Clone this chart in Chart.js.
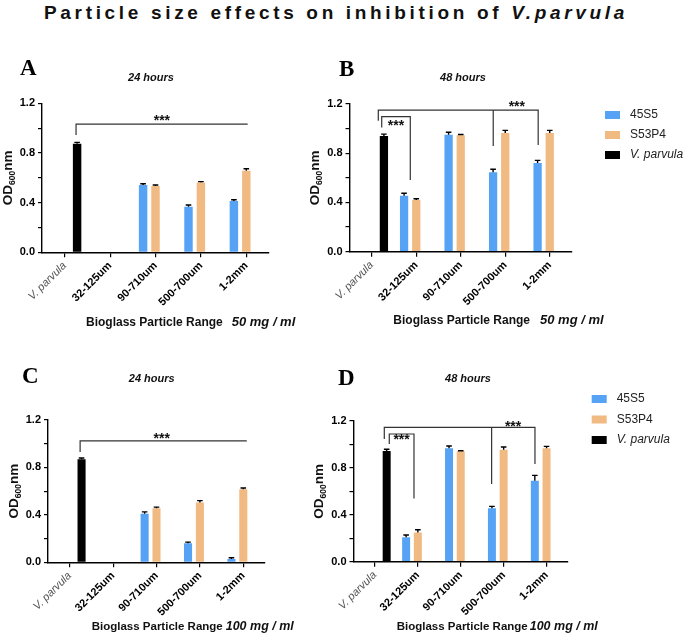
<!DOCTYPE html>
<html><head><meta charset="utf-8">
<script src="https://cdn.jsdelivr.net/npm/chart.js@4.4.1/dist/chart.umd.min.js"></script>
<style>
html,body{margin:0;padding:0;background:#fff;}
body{width:685px;height:636px;position:relative;overflow:hidden;}
#title{position:absolute;left:44px;top:1px;font-weight:bold;font-size:19px;font-family:"Liberation Sans Narrow","Liberation Sans",Arial,sans-serif;white-space:nowrap;color:#111;line-height:24px;}
canvas{position:absolute;}
</style></head><body>
<div id="title">Particle size effects on inhibition of <i>V.parvula</i></div>
<canvas id="cA" width="340" height="295" style="left:0;top:45px"></canvas>
<canvas id="cB" width="385" height="295" style="left:300px;top:45px"></canvas>
<canvas id="cC" width="340" height="281" style="left:0;top:355px"></canvas>
<canvas id="cD" width="385" height="281" style="left:300px;top:355px"></canvas>
<script>
// ---------- data ----------
const categories = ['V. parvula', '32-125um', '90-710um', '500-700um', '1-2mm'];
const seriesNames = ['45S5', 'S53P4', 'V. parvula'];
const yTickLabels = ['0.0', '0.4', '0.8', '1.2'];

// Panel A: 24 h, 50 mg/ml
const a45S5      = [null, null, 0.542, 0.367, 0.413];
const a45S5Err   = [null, null, 0.010, 0.014, 0.010];
const aS53P4     = [null, null, 0.534, 0.563, 0.657];
const aS53P4Err  = [null, null, 0.008, 0.006, 0.016];
const aVparvula  = [0.875, null, null, null, null];
const aVparvulaErr = [0.010, null, null, null, null];

// Panel B: 48 h, 50 mg/ml
const b45S5      = [null, 0.455, 0.950, 0.645, 0.720];
const b45S5Err   = [null, 0.020, 0.020, 0.025, 0.022];
const bS53P4     = [null, 0.420, 0.946, 0.964, 0.964];
const bS53P4Err  = [null, 0.010, 0.006, 0.022, 0.022];
const bVparvula  = [0.940, null, null, null, null];
const bVparvulaErr = [0.015, null, null, null, null];

// Panel C: 24 h, 100 mg/ml
const c45S5      = [null, null, 0.410, 0.160, 0.028];
const c45S5Err   = [null, null, 0.015, 0.010, 0.010];
const cS53P4     = [null, null, 0.455, 0.505, 0.617];
const cS53P4Err  = [null, null, 0.010, 0.015, 0.010];
const cVparvula  = [0.870, null, null, null, null];
const cVparvulaErr = [0.010, null, null, null, null];

// Panel D: 48 h, 100 mg/ml
const d45S5      = [null, 0.208, 0.967, 0.455, 0.690];
const d45S5Err   = [null, 0.020, 0.020, 0.017, 0.046];
const dS53P4     = [null, 0.250, 0.941, 0.955, 0.967];
const dS53P4Err  = [null, 0.023, 0.005, 0.023, 0.017];
const dVparvula  = [0.944, null, null, null, null];
const dVparvulaErr = [0.015, null, null, null, null];

// significance brackets in data units [category position, value]
const aBrackets = [[[0.25,0.944],[0.25,1.033],[4.03,1.033]]];
const aStars = [[2.14,1.079]];
const bBrackets = [[[0.147,1.064],[0.147,1.151],[3.74,1.151],[3.74,0.867]],[[2.73,1.151],[2.73,0.859]],[[0.224,1.01],[0.224,1.097],[0.866,1.097],[0.866,0.582]]];
const bStars = [[3.26,1.2],[0.545,1.043]];
const cBrackets = [[[0.24,0.93],[0.24,1.024],[4.08,1.024]]];
const cStars = [[2.12,1.066]];
const dBrackets = [[[0.218,1.046],[0.218,1.146],[3.73,1.146],[3.73,0.833]],[[2.72,1.146],[2.72,0.663]],[[0.334,1.004],[0.334,1.089],[0.91,1.089],[0.91,0.54]]];
const dStars = [[3.22,1.174],[0.62,1.061]];

// ---------- styling ----------
const FAM = "'Liberation Sans', Arial, sans-serif";
const COLORS = ['#56A3F6', '#F2BA83', '#000000'];
Chart.defaults.font.family = FAM;

// fit title letter-spacing
(function(){
  const t = document.getElementById('title');
  const w0 = t.getBoundingClientRect().width;
  const n = t.textContent.length;
  t.style.letterSpacing = ((584 - w0) / n) + 'px';
})();

const deco = {
  id: 'panelDeco',
  afterDatasetsDraw(chart) {
    const ctx = chart.ctx, ys = chart.scales.y;
    chart.data.datasets.forEach((ds, i) => {
      const meta = chart.getDatasetMeta(i);
      meta.data.forEach((el, j) => {
        const v = ds.data[j], e = ds.errors[j];
        if (v == null || e == null) return;
        const yTop = ys.getPixelForValue(v + e);
        ctx.save();
        ctx.strokeStyle = '#000'; ctx.lineWidth = 1.4;
        ctx.beginPath();
        ctx.moveTo(el.x, el.y); ctx.lineTo(el.x, yTop);
        ctx.moveTo(el.x - 2.8, yTop); ctx.lineTo(el.x + 2.8, yTop);
        ctx.stroke();
        ctx.restore();
      });
    });
  },
  afterDraw(chart, args, o) {
    const ctx = chart.ctx, xs = chart.scales.x, ys = chart.scales.y, ca = chart.chartArea;
    ctx.save();
    // brackets
    ctx.strokeStyle = '#333'; ctx.lineWidth = 1.2;
    o.brackets.forEach(path => {
      ctx.beginPath();
      path.forEach((p, k) => {
        const px = xs.getPixelForValue(p[0]), py = ys.getPixelForValue(p[1]);
        if (k === 0) ctx.moveTo(px, py); else ctx.lineTo(px, py);
      });
      ctx.stroke();
    });
    // stars
    ctx.fillStyle = '#111';
    ctx.font = 'bold 14px ' + FAM;
    ctx.textAlign = 'center'; ctx.textBaseline = 'alphabetic';
    const m = ctx.measureText('***');
    const off = (m.actualBoundingBoxAscent - m.actualBoundingBoxDescent) / 2;
    o.stars.forEach(s => {
      ctx.fillText('***', xs.getPixelForValue(s[0]), ys.getPixelForValue(s[1]) + off);
    });
    // panel letter
    ctx.textAlign = 'left';
    ctx.font = "bold 23px 'Liberation Serif', serif";
    ctx.fillStyle = '#000';
    ctx.fillText(o.letter.t, o.letter.x, o.letter.y);
    // hours
    ctx.textAlign = 'center'; ctx.textBaseline = 'middle';
    ctx.font = 'italic bold 11px ' + FAM;
    ctx.fillStyle = '#111';
    ctx.fillText(o.hours.t, o.hours.x, o.hours.y);
    // x title
    ctx.textAlign = 'left';
    ctx.font = 'bold ' + o.xt.s1 + 'px ' + FAM;
    ctx.fillText('Bioglass Particle Range', o.xt.x, o.xt.y);
    const w1 = ctx.measureText('Bioglass Particle Range').width;
    ctx.font = 'italic bold ' + o.xt.s2 + 'px ' + FAM;
    ctx.fillText(o.xt.t2, o.xt.x + w1 + o.xt.gap, o.xt.y);
    // y title OD600nm
    ctx.save();
    ctx.translate(ca.left - 35, (ca.top + ca.bottom) / 2);
    ctx.rotate(-Math.PI / 2);
    ctx.textBaseline = 'alphabetic'; ctx.textAlign = 'left';
    const fBig = 'bold 13.5px ' + FAM, fSmall = 'bold 8.5px ' + FAM;
    ctx.font = fBig; const wOD = ctx.measureText('OD').width, wNM = ctx.measureText('nm').width;
    ctx.font = fSmall; const w6 = ctx.measureText('600').width;
    let x0 = -(wOD + w6 + wNM) / 2; const base = 4.8;
    ctx.font = fBig; ctx.fillText('OD', x0, base);
    ctx.font = fSmall; ctx.fillText('600', x0 + wOD, base + 3);
    ctx.font = fBig; ctx.fillText('nm', x0 + wOD + w6, base);
    ctx.restore();
    // legend
    if (o.legend) {
      const L = o.legend;
      chart.data.datasets.forEach((ds, i) => {
        const cy = L.y + i * L.row;
        ctx.fillStyle = ds.backgroundColor;
        ctx.fillRect(L.x, cy - 4, 15, 8);
        ctx.fillStyle = '#222';
        ctx.font = (ds.italic ? 'italic ' : '') + '12px ' + FAM;
        ctx.textBaseline = 'middle'; ctx.textAlign = 'left';
        ctx.fillText(ds.label, L.tx, cy);
      });
    }
    ctx.restore();
  }
};

function makeChart(id, s1, e1, s2, e2, s3, e3, o) {
  return new Chart(document.getElementById(id), {
    type: 'bar',
    data: {
      labels: categories,
      datasets: [
        { label: seriesNames[0], data: s1, errors: e1, backgroundColor: COLORS[0] },
        { label: seriesNames[1], data: s2, errors: e2, backgroundColor: COLORS[1] },
        { label: seriesNames[2], data: s3, errors: e3, backgroundColor: COLORS[2], italic: true }
      ]
    },
    options: {
      responsive: false, animation: false, devicePixelRatio: 1,
      layout: { padding: { left: 0, right: o.padRight, top: o.padTop, bottom: 0 } },
      datasets: { bar: { categoryPercentage: 0.82, barPercentage: 0.68 } },
      plugins: { legend: { display: false }, tooltip: { enabled: false }, title: { display: false }, panelDeco: o },
      scales: {
        x: {
          grid: { offset: false, drawOnChartArea: false, drawTicks: true, tickLength: 5, color: '#000', lineWidth: 1.2 },
          border: { display: true, color: '#000', width: 1.5 },
          ticks: {
            minRotation: 45, maxRotation: 45, padding: 2, autoSkip: false,
            font: (c) => c.index === 0 ? { family: FAM, size: 11, style: 'italic', weight: 'normal' } : { family: FAM, size: 11, weight: 'bold' },
            color: (c) => c.index === 0 ? '#555' : '#000'
          },
          afterFit: (s) => { s.height = o.xHeight; }
        },
        y: {
          min: 0, max: 1.2,
          grid: { drawOnChartArea: false, drawTicks: true, tickLength: 4, color: '#000', lineWidth: 1.2 },
          border: { display: true, color: '#000', width: 1.4 },
          ticks: {
            stepSize: 0.2, padding: 3, color: '#000',
            font: { family: FAM, size: 11, weight: 'bold' },
            callback: (v, i) => (i % 2 === 0 ? yTickLabels[i / 2] : '')
          },
          afterFit: (s) => { s.width = o.yWidth; }
        }
      }
    },
    plugins: [deco]
  });
}

makeChart('cA', a45S5, a45S5Err, aS53P4, aS53P4Err, aVparvula, aVparvulaErr, {
  padRight: 71, padTop: 58.3, xHeight: 87.7, yWidth: 42,
  letter: { t: 'A', x: 20, y: 30 }, hours: { t: '24 hours', x: 151, y: 33.3 },
  xt: { x: 86, y: 277.7, gap: 9, s1: 12, s2: 13, t2: '50 mg / ml' },
  legend: null, brackets: aBrackets, stars: aStars
});
makeChart('cB', b45S5, b45S5Err, bS53P4, bS53P4Err, bVparvula, bVparvulaErr, {
  padRight: 113, padTop: 59, xHeight: 88.3, yWidth: 49.5,
  letter: { t: 'B', x: 39, y: 31 }, hours: { t: '48 hours', x: 163, y: 33.3 },
  xt: { x: 93.3, y: 275.7, gap: 10, s1: 12, s2: 13, t2: '50 mg / ml' },
  legend: { x: 305, y: 70, tx: 330, row: 20 }, brackets: bBrackets, stars: bStars
});
makeChart('cC', c45S5, c45S5Err, cS53P4, cS53P4Err, cVparvula, cVparvulaErr, {
  padRight: 75, padTop: 65, xHeight: 73.7, yWidth: 48,
  letter: { t: 'C', x: 22, y: 28 }, hours: { t: '24 hours', x: 151.7, y: 24.3 },
  xt: { x: 91.7, y: 271.7, gap: 3, s1: 11.5, s2: 12.5, t2: '100 mg / ml' },
  legend: null, brackets: cBrackets, stars: cStars
});
makeChart('cD', d45S5, d45S5Err, dS53P4, dS53P4Err, dVparvula, dVparvulaErr, {
  padRight: 117, padTop: 66, xHeight: 74.3, yWidth: 53.5,
  letter: { t: 'D', x: 38, y: 30 }, hours: { t: '48 hours', x: 168, y: 24.3 },
  xt: { x: 96.7, y: 271.7, gap: 2, s1: 11.5, s2: 12.5, t2: '100 mg / ml' },
  legend: { x: 291.7, y: 44, tx: 316.7, row: 20.5 }, brackets: dBrackets, stars: dStars
});
</script>
</body></html>
